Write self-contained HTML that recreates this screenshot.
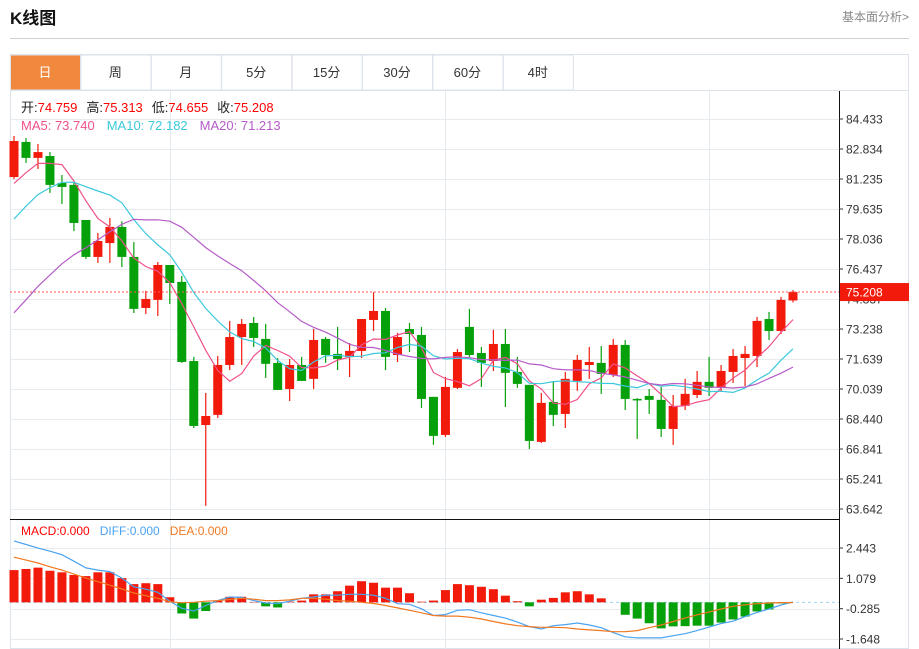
<!DOCTYPE html>
<html><head><meta charset="utf-8">
<style>
html,body{margin:0;padding:0;background:#fff;width:919px;height:649px;overflow:hidden;font-family:"Liberation Sans","Noto Sans CJK SC",sans-serif;}
svg{position:absolute;left:0;top:0;}
</style></head>
<body>
<svg id="chart" width="919" height="649" font-family="Liberation Sans, Noto Sans CJK SC, sans-serif">
  <text x="10" y="24" font-size="17" font-weight="bold" fill="#111">K线图</text>
  <text x="909" y="21" font-size="12" fill="#888" text-anchor="end">基本面分析&gt;</text>
  <line x1="10" y1="38.5" x2="909" y2="38.5" stroke="#d0d0d0"/>
  <rect x="10.5" y="54.5" width="898" height="594" fill="none" stroke="#dde3ea"/>
  <g id="tabs"></g>
  <g id="grid"></g>
  <g id="marks"></g>
  <g id="lines"></g>
  <g id="macd"></g>
  <g id="axis"></g>
  <text x="21" y="112" font-size="13"><tspan fill="#222">开:</tspan><tspan fill="#f00">74.759</tspan><tspan fill="#222" dx="9">高:</tspan><tspan fill="#f00">75.313</tspan><tspan fill="#222" dx="9">低:</tspan><tspan fill="#f00">74.655</tspan><tspan fill="#222" dx="9">收:</tspan><tspan fill="#f00">75.208</tspan></text>
  <text x="21" y="130" font-size="13"><tspan fill="#f0508a">MA5: 73.740</tspan><tspan fill="#3cc8dc" dx="12">MA10: 72.182</tspan><tspan fill="#b55cc8" dx="12">MA20: 71.213</tspan></text>
  <text x="21" y="535" font-size="12"><tspan fill="#f00">MACD:0.000</tspan><tspan fill="#4aa3f0" dx="10">DIFF:0.000</tspan><tspan fill="#f07820" dx="10">DEA:0.000</tspan></text>
</svg>
<script>
const tabLabels=["日","周","月","5分","15分","30分","60分","4时"];
const priceTicks=[84.433,82.834,81.235,79.635,78.036,76.437,74.837,73.238,71.639,70.039,68.440,66.841,65.241,63.642];
const macdTicks=[2.443,1.079,-0.285,-1.648];
const priorCloses=[68.5,68.2,68.8,69.0,69.3,69.5,69.6,69.9,69.2,69.0,75.5,76.5,77.2,78.0,78.8,79.5,80.2,80.9,81.14];
const opens=[81.34,83.21,82.36,82.46,81.02,80.92,79.05,77.08,77.82,78.68,77.08,74.36,74.79,76.65,75.75,71.53,68.12,68.66,71.32,72.81,73.56,72.71,71.43,70.04,71.32,70.58,72.71,71.91,71.74,72.07,73.72,74.20,71.85,73.24,72.92,69.62,67.59,70.10,73.35,71.96,71.53,72.44,70.95,70.26,67.22,69.35,68.71,70.47,71.32,71.43,70.79,72.39,69.51,69.67,69.46,67.91,69.14,69.72,70.42,70.10,70.95,71.69,71.80,73.77,73.13,74.759];
const closes=[83.26,82.36,82.67,80.92,80.81,78.89,77.08,77.93,78.68,77.08,74.31,74.84,76.65,75.69,71.48,68.07,68.60,71.32,72.81,73.51,72.76,71.38,69.99,71.32,70.47,72.65,71.85,71.64,72.07,73.77,74.20,71.75,72.81,72.97,69.51,67.54,70.15,72.01,71.85,71.43,72.44,70.90,70.31,67.27,69.30,68.66,70.58,71.59,71.48,70.84,72.39,69.51,69.46,69.46,67.91,69.14,69.78,70.42,70.10,71.00,71.80,71.91,73.67,73.13,74.79,75.208];
const highs=[83.53,83.42,83.10,82.67,81.45,81.08,79.05,78.36,79.16,78.98,77.88,75.27,76.81,76.65,76.07,71.75,69.83,71.80,73.67,73.77,73.88,73.51,71.69,71.64,71.75,73.24,72.81,73.35,72.49,73.77,75.20,74.36,73.03,73.56,73.35,69.62,70.68,72.17,74.31,72.28,73.19,73.24,71.75,70.26,69.83,70.42,70.95,71.85,72.28,72.33,72.71,72.65,69.56,70.04,70.15,69.72,70.58,71.00,71.75,71.32,72.17,72.33,73.88,74.15,74.95,75.313];
const lows=[81.23,82.09,81.77,80.49,79.90,78.46,76.97,76.76,76.76,76.54,74.09,74.04,73.93,74.57,71.43,67.96,63.81,68.50,71.05,71.32,72.28,70.63,69.99,69.40,70.47,70.04,71.43,71.05,70.68,71.69,73.13,71.05,71.48,72.01,69.03,67.06,67.48,70.04,71.75,70.15,71.00,69.08,70.10,66.84,67.16,68.07,67.96,69.94,70.58,69.78,70.68,68.92,67.38,68.71,67.48,67.06,68.92,69.56,69.67,69.88,70.36,70.20,71.21,72.65,72.97,74.655];
const macdHist=[1.45,1.50,1.56,1.42,1.35,1.23,1.18,1.35,1.35,1.09,0.82,0.86,0.82,0.23,-0.50,-0.73,-0.39,0.08,0.25,0.25,0.02,-0.18,-0.23,0.03,0.08,0.36,0.36,0.50,0.75,0.95,0.88,0.66,0.66,0.41,0.03,0.08,0.55,0.82,0.77,0.70,0.59,0.30,0.05,-0.18,0.12,0.20,0.45,0.50,0.36,0.18,0,-0.56,-0.73,-0.94,-1.17,-1.08,-1.07,-1.05,-1.05,-0.91,-0.77,-0.64,-0.41,-0.32,-0.05,0];
const diffVals=[2.76,2.60,2.44,2.30,2.14,1.85,1.55,1.45,1.38,1.09,0.70,0.59,0.45,0.05,-0.27,-0.39,-0.14,0.08,0.24,0.22,0.08,-0.03,-0.06,0.05,0.18,0.24,0.32,0.32,0.36,0.36,0.32,0.18,-0.06,-0.09,-0.29,-0.59,-0.55,-0.36,-0.33,-0.47,-0.59,-0.71,-0.89,-1.09,-1.20,-1.05,-1.00,-0.93,-1.02,-1.14,-1.36,-1.55,-1.60,-1.60,-1.60,-1.50,-1.41,-1.27,-1.11,-0.95,-0.85,-0.64,-0.45,-0.30,-0.12,0.02];
const deaVals=[2.03,1.90,1.77,1.60,1.45,1.27,1.09,0.93,0.77,0.60,0.42,0.30,0.18,0.03,-0.02,0,0.05,0.08,0.13,0.18,0.14,0.08,0.08,0.11,0.18,0.18,0.14,0.08,0.05,0,-0.05,-0.14,-0.25,-0.36,-0.47,-0.59,-0.62,-0.62,-0.67,-0.75,-0.86,-0.97,-1.05,-1.09,-1.12,-1.12,-1.14,-1.20,-1.24,-1.27,-1.32,-1.32,-1.27,-1.14,-1.02,-0.86,-0.71,-0.56,-0.44,-0.30,-0.18,-0.11,-0.06,-0.03,-0.01,-0.01];

const NS="http://www.w3.org/2000/svg";
function mk(tag,attrs,parent){const e=document.createElementNS(NS,tag);for(const k in attrs)e.setAttribute(k,attrs[k]);parent.appendChild(e);return e;}
const P_TOP=84.433,P_BOT=63.642,Y_TOP=119,Y_BOT=509;
function yP(v){return Y_TOP+(P_TOP-v)/(P_TOP-P_BOT)*(Y_BOT-Y_TOP);}
const M_TOP=2.443,M_BOT=-1.648,MY_TOP=548,MY_BOT=639;
function yM(v){return MY_TOP+(M_TOP-v)/(M_TOP-M_BOT)*(MY_BOT-MY_TOP);}
function xOf(i){return 14+i*(793-14)/(closes.length-1);}

// tabs
const tabs=document.getElementById('tabs');
tabLabels.forEach((t,i)=>{
  const x0=10+i*70.4;
  const r=mk('rect',{x:x0+0.5,y:55,width:70,height:35,fill:i===0?'#f0883e':'#fff',stroke:'#dde3ea'},tabs);
  
  
  const tx=mk('text',{x:x0+35,y:77,'font-size':13,'text-anchor':'middle',fill:i===0?'#fff':'#333'},tabs);
  tx.textContent=t;
  
  
});
const tb=mk('line',{x1:10,y1:90.5,x2:909,y2:90.5,stroke:'#dde3ea'},tabs);



// grid
const grid=document.getElementById('grid');
priceTicks.forEach(v=>{const l=mk('line',{x1:10,x2:839,y1:Math.round(yP(v))+0.5,y2:Math.round(yP(v))+0.5,stroke:'#e6ebf0'},grid);

});
macdTicks.forEach(v=>{const l=mk('line',{x1:10,x2:839,y1:Math.round(yM(v))+0.5,y2:Math.round(yM(v))+0.5,stroke:'#e6ebf0'},grid);

});
[170,445,709].forEach(x=>{const l=mk('line',{x1:x+0.5,x2:x+0.5,y1:91,y2:649,stroke:'#e6ebf0'},grid);

});

// candles
const marks=document.getElementById('marks');
closes.forEach((c,i)=>{
  const o=opens[i],x=xOf(i),up=c>=o,col=up?'#f21a0a':'#06a10a';
  const g=mk('g',{},marks);
  
  
  mk('line',{x1:x,x2:x,y1:yP(highs[i]),y2:yP(lows[i]),stroke:col,'stroke-width':1.2},g);
  const t=yP(Math.max(o,c)),b=yP(Math.min(o,c));
  mk('rect',{x:x-4.5,y:t,width:9,height:Math.max(1.5,b-t),fill:col},g);
});

// MA lines
const all=priorCloses.concat(closes);
function ma(n){return closes.map((_,i)=>{const k=i+priorCloses.length;let s=0;for(let j=k-n+1;j<=k;j++)s+=all[j];return s/n;});}
const lines=document.getElementById('lines');
[[5,'#f0508a','ma5-line'],[10,'#3cc8dc','ma10-line'],[20,'#b55cc8','ma20-line']].forEach(([n,col,name])=>{
  const vals=ma(n);
  const p=mk('polyline',{points:vals.map((v,i)=>xOf(i).toFixed(1)+','+yP(v).toFixed(1)).join(' '),fill:'none',stroke:col,'stroke-width':1.2},lines);
  
  
});
// current price line
const cp=mk('line',{x1:10,x2:839,y1:yP(closes[closes.length-1]),y2:yP(closes[closes.length-1]),stroke:'#f55',"stroke-dasharray":"2,2"},lines);



// MACD
const macd=document.getElementById('macd');
const sep=mk('line',{x1:10,x2:839,y1:519.5,y2:519.5,stroke:'#111'},macd);


const z=mk('line',{x1:10,x2:839,y1:yM(0),y2:yM(0),stroke:'#9fd3f0','stroke-dasharray':'3,3'},macd);


macdHist.forEach((v,i)=>{
  const y0=yM(0),y1=yM(v);
  const r=mk('rect',{x:xOf(i)-4.5,y:Math.min(y0,y1),width:9,height:Math.abs(y1-y0),fill:v>=0?'#f21a0a':'#06a10a'},macd);
  
  
});
[[diffVals,'#4aa3f0','diff-line'],[deaVals,'#f07820','dea-line']].forEach(([vals,col,name])=>{
  const p=mk('polyline',{points:vals.map((v,i)=>xOf(i).toFixed(1)+','+yM(v).toFixed(1)).join(' '),fill:'none',stroke:col,'stroke-width':1.2},macd);
  
  
});

// axis
const axis=document.getElementById('axis');
const al=mk('line',{x1:839.5,x2:839.5,y1:91,y2:649,stroke:'#111'},axis);


priceTicks.forEach(v=>{const y=yP(v);
  mk('line',{x1:839,x2:843,y1:y,y2:y,stroke:'#333'},axis);
  const t=mk('text',{x:846,y:y+4.5,'font-size':12,fill:'#333'},axis);t.textContent=v.toFixed(3);
  
  });
macdTicks.forEach(v=>{const y=yM(v);
  mk('line',{x1:839,x2:843,y1:y,y2:y,stroke:'#333'},axis);
  const t=mk('text',{x:846,y:y+4.5,'font-size':12,fill:'#333'},axis);t.textContent=v.toFixed(3);
  
  });
const last=closes[closes.length-1],ly=yP(last);
const lr=mk('rect',{x:840,y:ly-9,width:69,height:18,fill:'#f21a0a'},axis);


const lt=mk('text',{x:846,y:ly+4.5,'font-size':12,fill:'#fff'},axis);lt.textContent=last.toFixed(3);


</script>
</body></html>
